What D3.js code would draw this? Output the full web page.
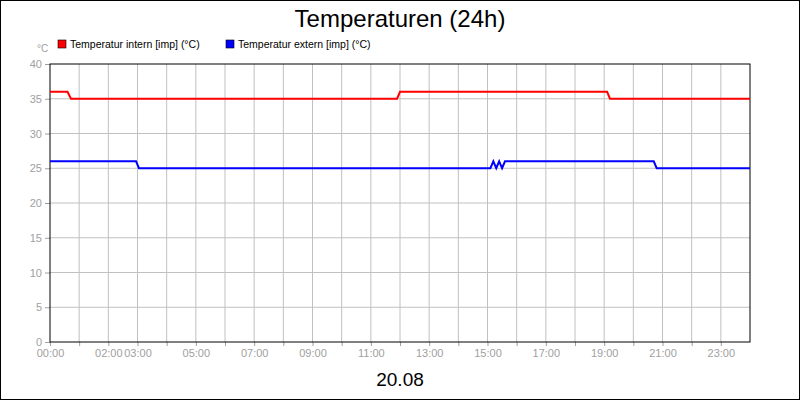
<!DOCTYPE html>
<html><head><meta charset="utf-8">
<script src="https://cdn.jsdelivr.net/npm/d3@7"></script>
<style>body{margin:0}svg{display:block;font-family:"Liberation Sans",Arial,sans-serif}</style>
</head><body><svg width="800" height="400"></svg>
<script>
// hours since 00:00, temperature in °C
const internTimes = [0, 0.6, 0.72, 11.9, 12.0, 19.1, 19.2, 24];
const internValues = [36, 36, 35, 35, 36, 36, 35, 35];
const externTimes = [0, 2.95, 3.05, 15.1, 15.2, 15.3, 15.4, 15.5, 15.6, 20.7, 20.8, 24];
const externValues = [26, 26, 25, 25, 26, 25, 26, 25, 26, 26, 25, 25];
const tickHours = [0, 2, 3, 5, 7, 9, 11, 13, 15, 17, 19, 21, 23];
const yTicks = [0, 5, 10, 15, 20, 25, 30, 35, 40];

const svg = d3.select("svg");
const pLeft = 50, pRight = 750, pTop = 64, pBottom = 342;
const x = d3.scaleLinear().domain([0, 24]).range([pLeft, pRight]);
const y = d3.scaleLinear().domain([0, 40]).range([pBottom, pTop]);
const fmt = h => String(h).padStart(2, "0") + ":00";

svg.append("rect").attr("x", 0.5).attr("y", 0.5).attr("width", 799).attr("height", 399)
    .attr("fill", "#fff").attr("stroke", "#000");

// grid
svg.append("g").selectAll("line").data(d3.range(1, 24)).join("line")
    .attr("x1", d => x(d)).attr("x2", d => x(d)).attr("y1", pTop).attr("y2", pBottom)
    .attr("stroke", "#c0c0c0");
svg.append("g").selectAll("line").data(yTicks.slice(1, -1)).join("line")
    .attr("x1", pLeft).attr("x2", pRight).attr("y1", d => y(d)).attr("y2", d => y(d))
    .attr("stroke", "#c0c0c0");

// axes
const ya = svg.append("g").attr("transform", `translate(${pLeft},0)`)
    .call(d3.axisLeft(y).tickValues(yTicks).tickSize(5).tickSizeOuter(0));
const xa = svg.append("g").attr("transform", `translate(0,${pBottom})`)
    .call(d3.axisBottom(x).tickValues(d3.range(0, 24)).tickFormat(d => tickHours.includes(d) ? fmt(d) : "").tickSize(4).tickSizeOuter(0));
[ya, xa].forEach(a => {
    a.select(".domain").remove();
    a.selectAll(".tick line").attr("stroke", "#a0a0a0");
    a.selectAll("text").attr("fill", "#a0a0a0").attr("font-size", 11).attr("font-family", "Liberation Sans, Arial");
});
svg.append("rect").attr("x", pLeft).attr("y", pTop).attr("width", pRight - pLeft).attr("height", pBottom - pTop)
    .attr("fill", "none").attr("stroke", "#000");

// lines
const line = d3.line().x(d => x(d[0])).y(d => y(d[1]));
svg.append("path").datum(d3.zip(internTimes, internValues)).attr("d", line)
    .attr("fill", "none").attr("stroke", "#ff0000").attr("stroke-width", 2);
svg.append("path").datum(d3.zip(externTimes, externValues)).attr("d", line)
    .attr("fill", "none").attr("stroke", "#0000ff").attr("stroke-width", 2);

// texts
svg.append("text").attr("x", 400).attr("y", 27).attr("text-anchor", "middle")
    .attr("font-size", 24).text("Temperaturen (24h)");
svg.append("text").attr("x", 400).attr("y", 386).attr("text-anchor", "middle")
    .attr("font-size", 19).text("20.08");
svg.append("text").attr("x", 37).attr("y", 52).attr("fill", "#a0a0a0").attr("font-size", 10).text("°C");

const legend = [["Temperatur intern [imp] (°C)", "#ff0000", 58], ["Temperatur extern [imp] (°C)", "#0000ff", 226]];
const lg = svg.append("g").selectAll("g").data(legend).join("g")
    .attr("transform", d => `translate(${d[2]},40)`);
lg.append("rect").attr("width", 8).attr("height", 8).attr("fill", d => d[1]).attr("stroke", "#000").attr("stroke-width", 0.6);
lg.append("text").attr("x", 12).attr("y", 8).attr("font-size", 10.5).text(d => d[0]);
</script></body></html>
